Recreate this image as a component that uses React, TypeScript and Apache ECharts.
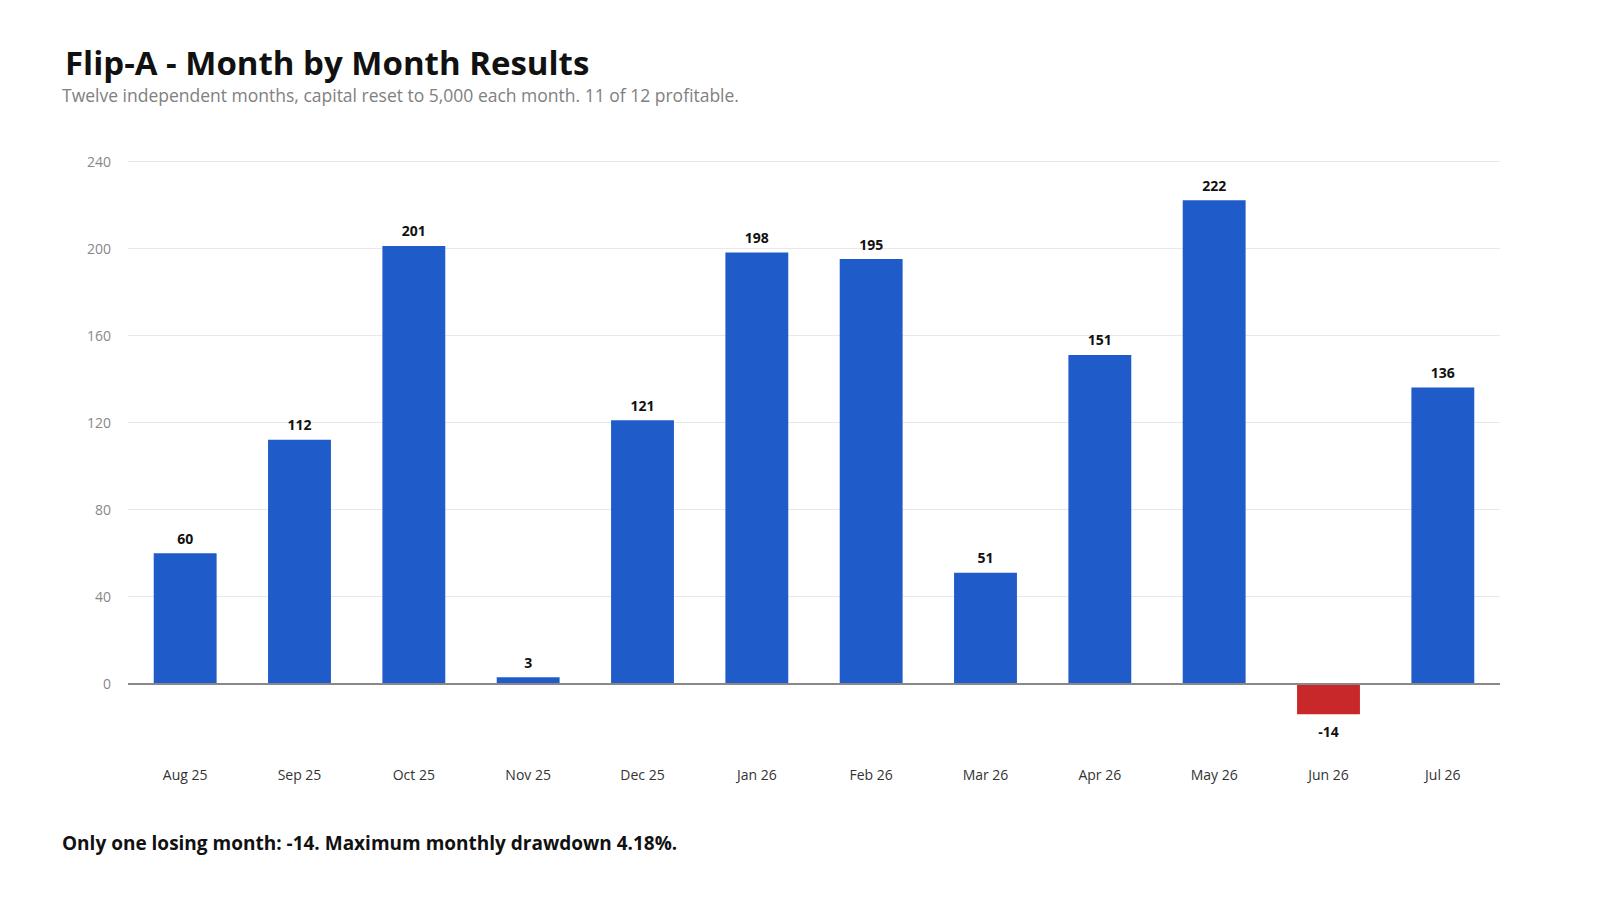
import React, { useEffect, useRef } from 'react';
import * as echarts from 'echarts';

const months = [
  'Aug 25', 'Sep 25', 'Oct 25', 'Nov 25', 'Dec 25', 'Jan 26',
  'Feb 26', 'Mar 26', 'Apr 26', 'May 26', 'Jun 26', 'Jul 26',
];
const results = [60, 112, 201, 3, 121, 198, 195, 51, 151, 222, -14, 136];

const yMin = -40;
const yMax = 240;
const yStep = 40;

const titleText = 'Flip-A - Month by Month Results';
const subtitleText = 'Twelve independent months, capital reset to 5,000 each month. 11 of 12 profitable.';
const footerText = 'Only one losing month: -14. Maximum monthly drawdown 4.18%.';

const BLUE = '#1f5bc9';
const RED = '#c9282a';
const FONT = '"Open Sans", "Noto Sans", sans-serif';

const App: React.FC = () => {
  const chartRef = useRef<HTMLDivElement>(null);

  useEffect(() => {
    if (!chartRef.current) return;
    const chart = echarts.init(chartRef.current, undefined, { renderer: 'svg' });

    const option: echarts.EChartsOption = {
      animation: false,
      backgroundColor: '#ffffff',
      textStyle: { fontFamily: FONT },
      title: [
        {
          text: titleText,
          left: 60,
          top: 40,
          textStyle: {
            fontSize: 33,
            lineHeight: 34,
            fontWeight: 'bold',
            color: '#111111',
            fontFamily: FONT,
          },
        },
        {
          text: subtitleText,
          left: 57,
          top: 80,
          textStyle: {
            fontSize: 17.5,
            lineHeight: 20,
            fontWeight: 'normal',
            color: '#808080',
            fontFamily: FONT,
          },
        },
        {
          text: footerText,
          left: 57,
          top: 828,
          textStyle: { fontSize: 19, fontWeight: 'bold', color: '#111111', fontFamily: FONT },
        },
      ],
      grid: {
        left: 128,
        right: 100,
        top: 161,
        bottom: 129,
        containLabel: false,
      },
      xAxis: {
        type: 'category',
        data: months,
        offset: -12,
        axisLine: { show: false, onZero: false },
        axisTick: { show: false },
        axisLabel: { color: '#333333', fontSize: 14, margin: 8 },
      },
      yAxis: {
        type: 'value',
        min: yMin,
        max: yMax,
        interval: yStep,
        axisLine: { show: false },
        axisTick: { show: false },
        axisLabel: {
          color: '#888888',
          fontSize: 14,
          margin: 17,
          formatter: (v: number) => (v < 0 ? '' : String(v)),
        },
        splitLine: {
          show: true,
          showMinLine: false,
          lineStyle: { color: '#e8e8e8', width: 1 },
        },
      },
      series: [
        {
          type: 'bar',
          barWidth: '55%',
          data: results.map((v) => ({
            value: v,
            itemStyle: { color: v < 0 ? RED : BLUE },
            label: { position: v < 0 ? 'bottom' : 'top', distance: v < 0 ? 10 : 8 },
          })),
          label: {
            show: true,
            distance: 8,
            fontSize: 14,
            fontWeight: 'bold',
            color: '#111111',
          },
          markLine: {
            silent: true,
            symbol: 'none',
            label: { show: false },
            lineStyle: { color: '#888888', width: 2, type: 'solid' },
            data: [{ yAxis: 0 }],
          },
        },
      ],
    };

    chart.setOption(option);
    const handleResize = () => chart.resize();
    window.addEventListener('resize', handleResize);
    return () => {
      window.removeEventListener('resize', handleResize);
      chart.dispose();
    };
  }, []);

  return (
    <div
      ref={chartRef}
      style={{ position: 'fixed', left: 0, top: 0, width: '100vw', height: '100vh' }}
    />
  );
};

export default App;
